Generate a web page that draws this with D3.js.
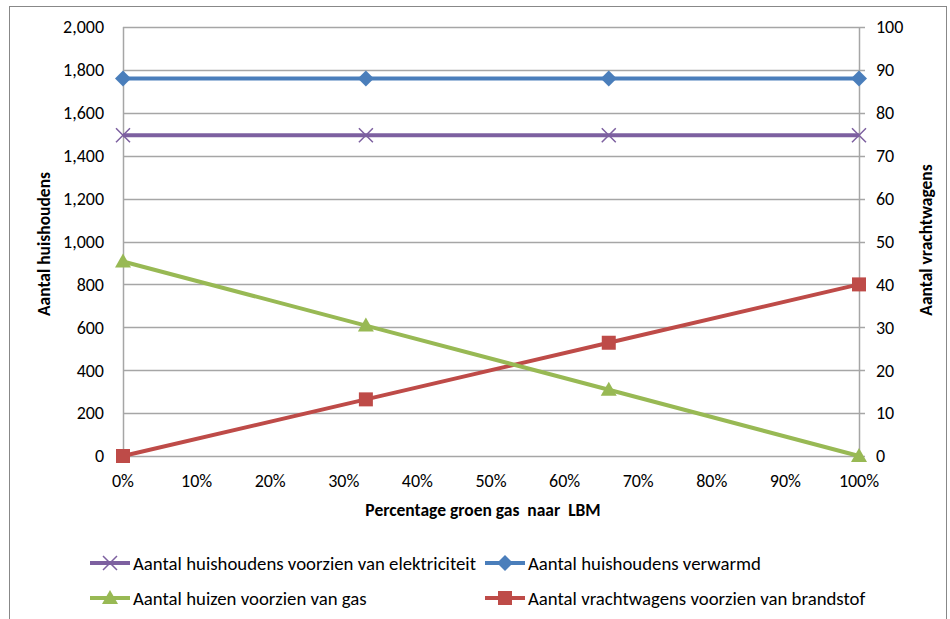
<!DOCTYPE html>
<html><head><meta charset="utf-8">
<script src="https://cdnjs.cloudflare.com/ajax/libs/d3/7.8.5/d3.min.js"></script>
<style>body{margin:0;background:#fff}svg{display:block}text{font-family:Calibri,Carlito,"Open Sans",sans-serif;fill:#000}</style>
</head><body><svg id="c" width="950" height="619"></svg>
<script>
const xValues = [0, 0.33, 0.66, 1.0];
const elektriciteit = [1495, 1495, 1495, 1495];
const verwarmd = [1760, 1760, 1760, 1760];
const huizenGas = [907, 608, 309, 0];
const vrachtwagens = [0, 13.2, 26.4, 40];
const leftTicks = [0,200,400,600,800,1000,1200,1400,1600,1800,2000];
const rightTicks = [0,10,20,30,40,50,60,70,80,90,100];
const xTicks = [0,0.1,0.2,0.3,0.4,0.5,0.6,0.7,0.8,0.9,1.0];

const svg = d3.select("#c");
const L=123,R=859,T=27,B=456;
const x = d3.scaleLinear().domain([0,1]).range([L,R]);
const yL = d3.scaleLinear().domain([0,2000]).range([B,T]);
const yR = d3.scaleLinear().domain([0,100]).range([B,T]);

svg.append("rect").attr("x",9.5).attr("y",6.5).attr("width",937).attr("height",640)
  .attr("fill","none").attr("stroke","#888").attr("stroke-width",1);

svg.append("g").selectAll("line").data(leftTicks).join("line")
  .attr("x1",L).attr("x2",R+6).attr("y1",d=>Math.round(yL(d))+0.5).attr("y2",d=>Math.round(yL(d))+0.5)
  .attr("stroke","#a6a6a6").attr("stroke-width",1.5);
svg.append("line").attr("x1",L+0.5).attr("x2",L+0.5).attr("y1",T).attr("y2",B).attr("stroke","#a6a6a6").attr("stroke-width",1.5);
svg.append("line").attr("x1",R+0.5).attr("x2",R+0.5).attr("y1",T).attr("y2",B).attr("stroke","#a6a6a6").attr("stroke-width",1.5);

const fmt = d3.format(",");
svg.append("g").selectAll("text").data(leftTicks).join("text")
  .attr("x",104).attr("y",d=>yL(d)).attr("dy","0.35em").attr("text-anchor","end")
  .attr("font-size",18).text(d=>fmt(d));
svg.append("g").selectAll("text").data(rightTicks).join("text")
  .attr("x",876).attr("y",d=>yR(d)).attr("dy","0.35em").attr("text-anchor","start")
  .attr("font-size",18).text(d=>d);
svg.append("g").selectAll("text").data(xTicks).join("text")
  .attr("x",d=>x(d)).attr("y",487).attr("text-anchor","middle")
  .attr("font-size",18).text(d=>Math.round(d*100)+"%");

svg.append("text").attr("x",483).attr("y",516).attr("text-anchor","middle").attr("font-size",17.5).attr("font-weight","bold")
  .attr("xml:space","preserve").text("Percentage groen gas  naar  LBM");
svg.append("text").attr("transform","translate(50,244) rotate(-90)").attr("text-anchor","middle").attr("font-size",17.5).attr("font-weight","bold")
  .text("Aantal huishoudens");
svg.append("text").attr("transform","translate(932,240) rotate(-90)").attr("text-anchor","middle").attr("font-size",17.5).attr("font-weight","bold")
  .text("Aantal vrachtwagens");

const series = [
  {name:"Aantal huishoudens voorzien van elektriciteit", vals:elektriciteit, y:yL, color:"#7d60a0", marker:"x"},
  {name:"Aantal huishoudens verwarmd", vals:verwarmd, y:yL, color:"#4a7ebb", marker:"diamond"},
  {name:"Aantal huizen voorzien van gas", vals:huizenGas, y:yL, color:"#98b954", marker:"triangle"},
  {name:"Aantal vrachtwagens voorzien van brandstof", vals:vrachtwagens, y:yR, color:"#be4b48", marker:"square"}
];
function drawMarker(g, type, color, cx, cy){
  if(type==="x"){
    g.append("path").attr("d",`M${cx-7},${cy-7}L${cx+7},${cy+7}M${cx-7},${cy+7}L${cx+7},${cy-7}`)
      .attr("stroke",color).attr("stroke-width",1.5).attr("fill","none");
  } else if(type==="diamond"){
    g.append("path").attr("d",`M${cx},${cy-8}L${cx+8},${cy}L${cx},${cy+8}L${cx-8},${cy}Z`).attr("fill",color);
  } else if(type==="triangle"){
    g.append("path").attr("d",`M${cx},${cy-8}L${cx+8},${cy+6}L${cx-8},${cy+6}Z`).attr("fill",color);
  } else {
    g.append("rect").attr("x",cx-7).attr("y",cy-7).attr("width",14).attr("height",14).attr("fill",color);
  }
}
const order=[3,2,0,1];
order.forEach(i=>{
  const s=series[i];
  const g=svg.append("g");
  g.append("path").datum(s.vals.map((v,j)=>[x(xValues[j]),s.y(v)]))
    .attr("d",d3.line()).attr("fill","none").attr("stroke",s.color).attr("stroke-width",4).attr("stroke-linejoin","round");
  s.vals.forEach((v,j)=>drawMarker(g,s.marker,s.color,x(xValues[j]),s.y(v)));
});

const leg=[{s:0,x:90,y:563},{s:1,x:485,y:563},{s:2,x:90,y:598},{s:3,x:485,y:598}];
leg.forEach(l=>{
  const s=series[l.s];const g=svg.append("g");
  g.append("line").attr("x1",l.x).attr("x2",l.x+40).attr("y1",l.y).attr("y2",l.y).attr("stroke",s.color).attr("stroke-width",4);
  drawMarker(g,s.marker,s.color,l.x+20,l.y);
  g.append("text").attr("x",l.x+43).attr("y",l.y).attr("dy","0.35em").attr("font-size",18.8).text(s.name);
});
</script></body></html>
